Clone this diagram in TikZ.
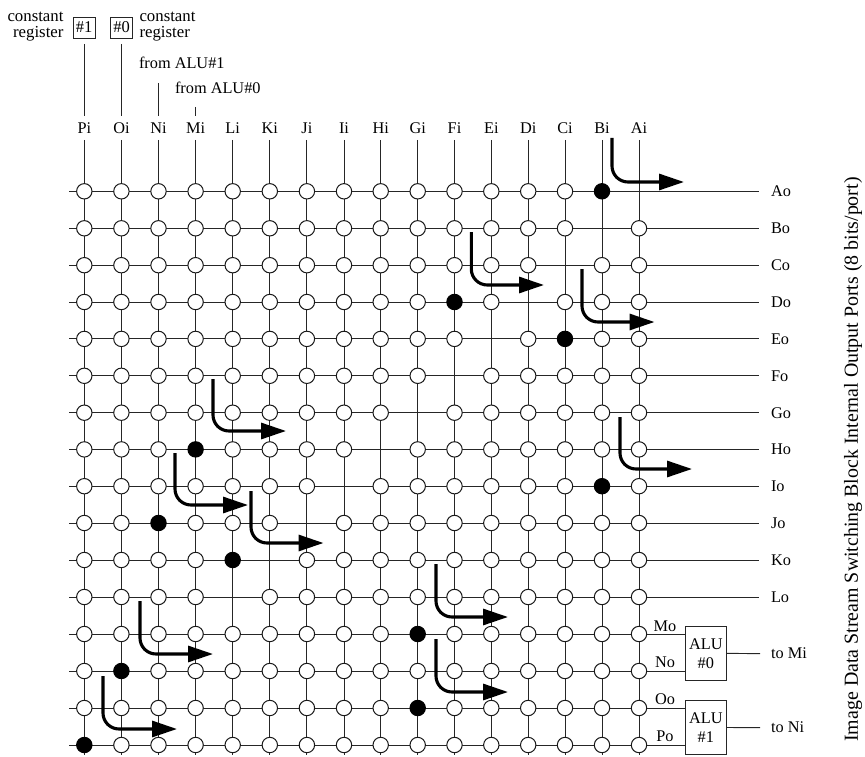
\documentclass[tikz,border=0pt]{standalone}
\usepackage{fontspec}
\setmainfont{Liberation Serif}
\usetikzlibrary{arrows.meta}
\tikzset{
  x=1pt,y=-1pt,
  wire/.style={line width=0.95pt,draw=black!85},
  xpoint/.style={circle,draw=black!90,line width=1pt,fill=white,minimum size=15.4pt,inner sep=0pt,outer sep=0pt},
  onpoint/.style={circle,draw=black,fill=black,line width=1pt,minimum size=15.4pt,inner sep=0pt,outer sep=0pt},
  lab/.style={font=\fontsize{16.3}{17}\selectfont,inner sep=0pt,outer sep=0pt},
  portlab/.style={lab,anchor=west},
  alubox/.style={draw=black!85,line width=0.95pt,fill=white,minimum width=41.5pt,minimum height=53.5pt,inner sep=0pt,align=center,font=\fontsize{16.3}{19}\selectfont},
  regbox/.style={draw=black!85,line width=0.95pt,minimum width=22pt,minimum height=21pt,inner sep=0pt,font=\fontsize{16.5}{17}\selectfont},
  flow/.style={line width=3.1pt,rounded corners=16pt,-{Triangle[length=25pt,width=16pt]}},
}
\begin{document}
\begin{tikzpicture}
\useasboundingbox (0,0) rectangle (865,757);
% column and row anchors
\foreach \c/\xx in {P/84.3,O/121.4,N/158.5,M/195.6,L/232.7,K/269.8,J/306.9,I/344,H/380.7,G/417.7,F/454.5,E/491.3,D/528.2,C/565,B/602,A/639}{
  \coordinate (col\c start) at (\xx,140);
  \coordinate (col\c end) at (\xx,755);
  \node[lab] (\c i) at (\xx,128) {\c i};
  \draw[wire] (col\c start) -- (col\c end);
}
\foreach \r/\yy in {A/191.3,B/228.3,C/265.2,D/302,E/338.9,F/375.8,G/412.7,H/449.4,I/486.2,J/523,K/560,L/597,M/634,N/671,O/708,P/745}{
  \coordinate (row\r left) at (69,\yy);
  \coordinate (row\r right) at (759,\yy);
}
\foreach \r in {A,B,C,D,E,F,G,H,I,J,K,L}{
  \draw[wire] (row\r left) -- (row\r right);
  \node[portlab] (\r o) at ([xshift=12pt]row\r right) {\r o};
}
% ALU blocks
\node[alubox] (alu0) at (705.8,653.4) {ALU\\\#0};
\node[alubox] (alu1) at (705.8,727.5) {ALU\\\#1};
\draw[wire] (rowMleft) -- (rowMleft -| alu0.west);
\draw[wire] (rowNleft) -- (rowNleft -| alu0.west);
\draw[wire] (rowOleft) -- (rowOleft -| alu1.west);
\draw[wire] (rowPleft) -- (rowPleft -| alu1.west);
\node[lab] (Mo) at (665,626) {Mo};
\node[lab] (No) at (665,662.5) {No};
\node[lab] (Oo) at (665,699.5) {Oo};
\node[lab] (Po) at (665,736) {Po};
\node[portlab] (toMi) at (771,653.6) {to Mi};
\node[portlab] (toNi) at (771,727.6) {to Ni};
\coordinate (toMiL) at (760,653.6);
\coordinate (toNiL) at (760,727.6);
\draw[wire] (alu0.east) -- (toMiL);
\draw[wire] (alu1.east) -- (toNiL);
% crossing points: row / y / on-column / absent-column
\foreach \r/\yy/\on/\off in {A/191.3/15/16,B/228.3/0/15,C/265.2/0/14,D/302/11/13,E/338.9/14/12,F/375.8/0/11,G/412.7/0/10,H/449.4/4/9,I/486.2/15/8,J/523/3/7,K/560/5/6,L/597/0/5,M/634/10/0,N/671/2/0,O/708/10/0,P/745/1/0}{
  \foreach \c/\xx [count=\n] in {P/84.3,O/121.4,N/158.5,M/195.6,L/232.7,K/269.8,J/306.9,I/344,H/380.7,G/417.7,F/454.5,E/491.3,D/528.2,C/565,B/602,A/639}{
    \ifnum\n=\off\relax\else
      \ifnum\n=\on\relax
        \node[onpoint] (x\r\c) at (\xx,\yy) {};
      \else
        \node[xpoint] (x\r\c) at (\xx,\yy) {};
      \fi
    \fi
  }
}
% top sources
\node[regbox] (reg1) at (84,27.5) {\#1};
\node[regbox] (reg0) at (121.6,27.5) {\#0};
\coordinate (srcPa) at (84,44);
\coordinate (srcPb) at (84,116);
\coordinate (srcOa) at (121.4,44);
\coordinate (srcOb) at (121.4,116);
\coordinate (srcNa) at (158.5,83);
\coordinate (srcNb) at (158.5,116);
\coordinate (srcMa) at (195.6,107);
\coordinate (srcMb) at (195.6,116);
\draw[wire] (srcPa) -- (srcPb);
\draw[wire] (srcOa) -- (srcOb);
\draw[wire] (srcNa) -- (srcNb);
\draw[wire] (srcMa) -- (srcMb);
\node[lab,anchor=east,align=right,font=\fontsize{16.8}{16}\selectfont] (cr1) at (63.5,26.5) {constant\\register};
\node[lab,anchor=west,align=left,font=\fontsize{16.8}{16}\selectfont] (cr0) at (139.5,26.5) {constant\\register};
\node[lab,anchor=west] (fa1) at (139,62.5) {from ALU\#1};
\node[lab,anchor=west] (fa0) at (175,87.5) {from ALU\#0};
% flow arrows
\coordinate (a1s) at (612,138);\coordinate (a1c) at (612,182);\coordinate (a1e) at (684,182);
\coordinate (a2s) at (471.3,232);\coordinate (a2c) at (471.3,285);\coordinate (a2e) at (544,285);
\coordinate (a3s) at (582,269);\coordinate (a3c) at (582,322);\coordinate (a3e) at (654.5,322);
\coordinate (a4s) at (213,379);\coordinate (a4c) at (213,431);\coordinate (a4e) at (286,431);
\coordinate (a5s) at (175,453);\coordinate (a5c) at (175,505);\coordinate (a5e) at (248,505);
\coordinate (a6s) at (251,491);\coordinate (a6c) at (251,543);\coordinate (a6e) at (323.5,543);
\coordinate (a7s) at (620,417);\coordinate (a7c) at (620,469);\coordinate (a7e) at (692,469);
\coordinate (a8s) at (436,564);\coordinate (a8c) at (436,617);\coordinate (a8e) at (508,617);
\coordinate (a9s) at (436,639);\coordinate (a9c) at (436,692);\coordinate (a9e) at (508,692);
\coordinate (a10s) at (140,601);\coordinate (a10c) at (140,654);\coordinate (a10e) at (213,654);
\coordinate (a11s) at (103,676);\coordinate (a11c) at (103,729);\coordinate (a11e) at (177,729);
\foreach \k in {1,...,11}{
  \draw[flow] (a\k s) -- (a\k c) -- (a\k e);
}
% rotated caption
\node[lab,rotate=90,font=\fontsize{19.9}{21}\selectfont] (caption) at (853,459.5) {Image Data Stream Switching Block Internal Output Ports (8 bits/port)};
\end{tikzpicture}
\end{document}
